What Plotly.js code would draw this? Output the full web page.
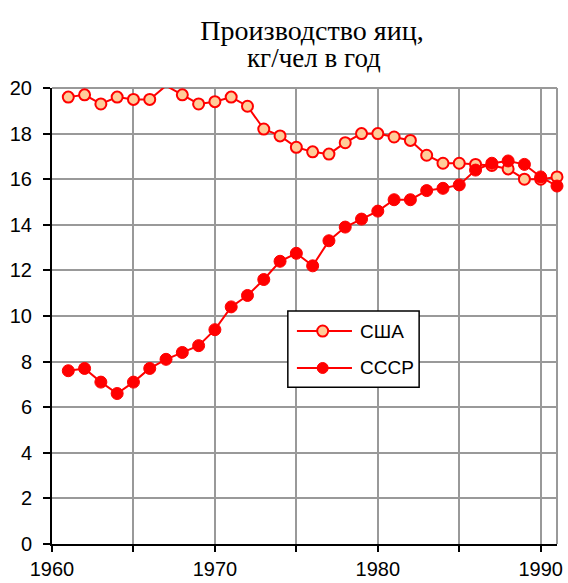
<!DOCTYPE html>
<html>
<head>
<meta charset="utf-8">
<script src="https://cdn.plot.ly/plotly-3.0.1.min.js"></script>
<style>html,body{margin:0;padding:0;background:#fff}#chart{width:568px;height:583px}</style>
</head>
<body>
<div id="chart"></div>
<script>
const years = [1961,1962,1963,1964,1965,1966,1967,1968,1969,1970,1971,1972,1973,1974,1975,1976,1977,1978,1979,1980,1981,1982,1983,1984,1985,1986,1987,1988,1989,1990,1991];
const usa = [19.6,19.7,19.3,19.6,19.5,19.5,20.1,19.7,19.3,19.4,19.6,19.2,18.2,17.9,17.4,17.2,17.1,17.6,18.0,18.0,17.85,17.7,17.05,16.7,16.7,16.65,16.6,16.45,16.0,16.0,16.1];
const ussr = [7.6,7.7,7.1,6.6,7.1,7.7,8.1,8.4,8.7,9.4,10.4,10.9,11.6,12.4,12.75,12.2,13.3,13.9,14.25,14.6,15.1,15.1,15.5,15.6,15.75,16.4,16.7,16.8,16.65,16.1,15.7];
const seriesNames = ['США','СССР'];
const xTickVals = [1960,1965,1970,1975,1980,1985,1990];
const xTickText = ['1960','','1970','','1980','','1990'];
const titleLine1 = 'Производство яиц,';
const titleLine2 = 'кг/чел в год';

const traces = [
  {x: years, y: usa, name: seriesNames[0], type: 'scatter', mode: 'lines+markers', cliponaxis: false,
   line: {color: '#ff0000', width: 2},
   marker: {symbol: 'circle', size: 11, color: '#ffcc99', line: {color: '#ff0000', width: 2}}},
  {x: years, y: ussr, name: seriesNames[1], type: 'scatter', mode: 'lines+markers', cliponaxis: false,
   line: {color: '#ff0000', width: 2},
   marker: {symbol: 'circle', size: 12, color: '#ff0000', line: {color: '#ff0000', width: 1}}}
];

// legend geometry (paper coords of plot area)
const lx0 = 0.467, lx1 = 0.727, ly0 = 0.344, ly1 = 0.511;
const rowY = [0.467, 0.386];
const sx0 = 0.485, sx1 = 0.594, sxm = 0.536, tx = 0.606;

const shapes = [
  {type: 'line', xref: 'paper', yref: 'paper', x0: 0, x1: 1, y0: 1, y1: 1, line: {color: '#999999', width: 2}, layer: 'below'},
  {type: 'line', xref: 'paper', yref: 'paper', x0: 1, x1: 1, y0: 0, y1: 1, line: {color: '#999999', width: 2}, layer: 'below'},
  {type: 'rect', xref: 'paper', yref: 'paper', x0: lx0, x1: lx1, y0: ly0, y1: ly1, fillcolor: '#ffffff', line: {color: '#000000', width: 1.5}, layer: 'above'}
];
const annotations = [
  {xref: 'paper', yref: 'paper', x: (314 - 52) / 505, y: (544 - 57.5) / 456, xanchor: 'center', yanchor: 'middle', showarrow: false,
   text: titleLine2, font: {family: 'Liberation Serif, Times New Roman, serif', size: 27, color: '#000'}}
];
seriesNames.forEach((nm, i) => {
  shapes.push({type: 'line', xref: 'paper', yref: 'paper', x0: sx0, x1: sx1, y0: rowY[i], y1: rowY[i], line: {color: '#ff0000', width: 2}, layer: 'above'});
  shapes.push({type: 'circle', xref: 'paper', yref: 'paper', xsizemode: 'pixel', ysizemode: 'pixel', xanchor: sxm, yanchor: rowY[i],
    x0: -5.5, x1: 5.5, y0: -5.5, y1: 5.5, fillcolor: i === 0 ? '#ffcc99' : '#ff0000', line: {color: '#ff0000', width: i === 0 ? 2 : 1}, layer: 'above'});
  annotations.push({xref: 'paper', yref: 'paper', x: tx, y: rowY[i], xanchor: 'left', yanchor: 'middle', showarrow: false,
    text: nm, font: {family: 'Liberation Sans, Arial, sans-serif', size: 19, color: '#000'}});
});

const layout = {
  width: 568, height: 583,
  margin: {l: 52, r: 11, t: 88, b: 39, pad: 0},
  paper_bgcolor: '#ffffff', plot_bgcolor: '#ffffff',
  showlegend: false,
  title: {text: titleLine1, x: 312/568, xref: 'container', xanchor: 'center', y: 1 - 30.5/583, yref: 'container', yanchor: 'middle',
    font: {family: 'Liberation Serif, Times New Roman, serif', size: 28, color: '#000'}},
  xaxis: {range: [1960, 1991], tickmode: 'array', tickvals: xTickVals, ticktext: xTickText,
    showgrid: true, gridcolor: '#999999', gridwidth: 2, zeroline: false,
    showline: true, linecolor: '#000000', linewidth: 2,
    ticks: 'outside', ticklen: 6, tickwidth: 2, tickcolor: '#000000',
    tickfont: {family: 'Liberation Sans, Arial, sans-serif', size: 20, color: '#000'}, fixedrange: true},
  yaxis: {range: [0, 20], dtick: 2, tick0: 0,
    showgrid: true, gridcolor: '#999999', gridwidth: 2, zeroline: false,
    showline: true, linecolor: '#000000', linewidth: 2,
    ticks: 'outside', ticklen: 7, tickwidth: 2, tickcolor: '#000000', ticklabelstandoff: 7,
    tickfont: {family: 'Liberation Sans, Arial, sans-serif', size: 20, color: '#000'}, fixedrange: true},
  shapes: shapes,
  annotations: annotations
};

Plotly.newPlot('chart', traces, layout, {staticPlot: true, displayModeBar: false});
</script>
</body>
</html>
